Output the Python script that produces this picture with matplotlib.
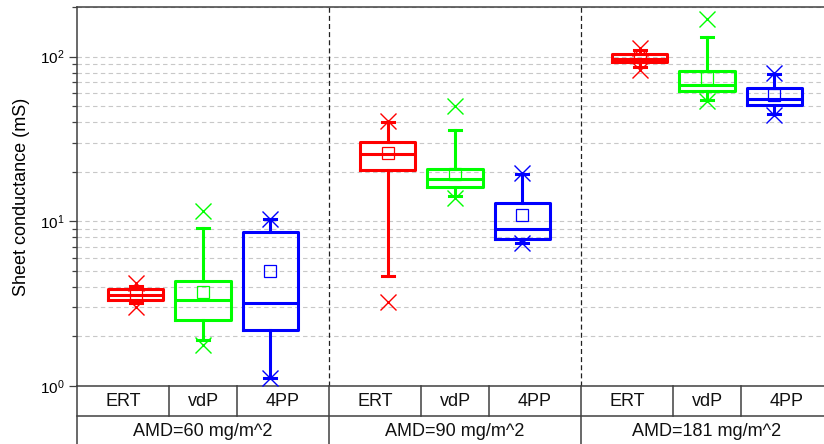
import matplotlib
matplotlib.use("Agg")
import matplotlib.pyplot as plt
import matplotlib.transforms as mtransforms
from matplotlib.ticker import LogLocator, NullFormatter

plt.rcParams['font.family'] = ['Liberation Sans', 'DejaVu Sans']

groups = ["AMD=60 mg/m^2", "AMD=90 mg/m^2", "AMD=181 mg/m^2"]
methods = ["ERT", "vdP", "4PP"]
colors = ["#ff0000", "#00ff00", "#0000ff"]

# statistics per group (rows) and per method (columns), in mS
q1 = [[3.35, 2.52, 2.19], [20.6, 16.1, 7.83], [92.9, 61.5, 50.6]]
median = [[3.57, 3.33, 3.21], [25.6, 18.1, 8.97], [96.9, 67.3, 55.6]]
q3 = [[3.89, 4.35, 8.55], [30.5, 20.8, 12.9], [104.3, 81.4, 64.2]]
mean = [[3.62, 3.71, 5.0], [25.8, 19.4, 10.85], [100.4, 74.2, 58.7]]
whisk_lo = [[3.19, 1.89, 1.12], [4.68, 14.2, 7.43], [86.1, 54.8, 45.0]]
whisk_hi = [[4.06, 9.1, 10.3], [40.1, 35.8, 19.4], [109.2, 131.8, 78.8]]
data_min = [[3.02, 1.78, 1.12], [3.25, 13.9, 7.43], [83.4, 53.5, 44.4]]
data_max = [[4.2, 11.6, 10.3], [40.5, 49.9, 19.6], [113.0, 168.0, 79.5]]

group_w = 3.75
stats, pos, box_colors = [], [], []
for g in range(len(groups)):
    for m in range(len(methods)):
        stats.append(dict(med=median[g][m], q1=q1[g][m], q3=q3[g][m],
                          whislo=whisk_lo[g][m], whishi=whisk_hi[g][m],
                          mean=mean[g][m],
                          fliers=[data_min[g][m], data_max[g][m]]))
        pos.append(g * group_w + (m - 1))
        box_colors.append(colors[m])

fig = plt.figure(figsize=(8.24, 4.44), dpi=100)
ax = fig.add_axes([77 / 824, 58 / 444, 756 / 824, 379 / 444])

lw = 2.2
bp = ax.bxp(stats, positions=pos, widths=0.82, capwidths=0.18,
            showmeans=True, showfliers=True, manage_ticks=False,
            boxprops=dict(lw=lw), whiskerprops=dict(lw=lw),
            capprops=dict(lw=lw), medianprops=dict(lw=lw),
            meanprops=dict(marker='s', markerfacecolor='none',
                           markersize=9, markeredgewidth=0.9),
            flierprops=dict(marker='x', markersize=12, markeredgewidth=1.0,
                            linestyle='none'))
for i, c in enumerate(box_colors):
    bp['boxes'][i].set_color(c)
    bp['medians'][i].set_color(c)
    bp['means'][i].set_markeredgecolor(c)
    bp['fliers'][i].set_markeredgecolor(c)
    bp['fliers'][i].set_zorder(4)
    for k in (2 * i, 2 * i + 1):
        bp['whiskers'][k].set_color(c)
        bp['caps'][k].set_color(c)

ax.set_yscale('log')
ax.set_ylim(1, 200)
ax.set_xlim(-group_w / 2, len(groups) * group_w - group_w / 2)
ax.yaxis.set_minor_locator(LogLocator(subs=range(2, 10)))
ax.yaxis.set_minor_formatter(NullFormatter())
ax.set_xticks([])

spine_c = '#404040'
for s in ax.spines.values():
    s.set_color(spine_c)
    s.set_linewidth(1.1)
ax.tick_params(axis='y', which='major', length=6, width=0.9, color=spine_c,
               labelsize=11, pad=3)
ax.tick_params(axis='y', which='minor', length=3.5, width=0.9, color=spine_c)

ax.grid(which='both', axis='y', ls=(0, (4, 3)), color='#c8c8c8', lw=0.8)
ax.set_axisbelow(True)

for g in range(1, len(groups)):
    ax.axvline(g * group_w - group_w / 2, color='#202020', lw=0.9,
               ls=(0, (4, 2.5)))

ax.set_ylabel("Sheet conductance (mS)", fontsize=13, va='center')
ax.yaxis.set_label_coords(-0.074, 0.5)

# category table under the axis
tb = mtransforms.blended_transform_factory(ax.transData, fig.transFigure)
row1 = 28 / 444
line_kw = dict(color=spine_c, lw=1.1, clip_on=False, transform=tb)
x_left, x_right = ax.get_xlim()
ax.plot([x_left, x_right], [row1, row1], **line_kw)
ax.plot([x_left, x_left], [0, 58 / 444], **line_kw)
for g in range(len(groups)):
    c = g * group_w
    if g > 0:
        ax.plot([c - group_w / 2] * 2, [0, 58 / 444], **line_kw)
    for b in (c - 0.5, c + 0.5):
        ax.plot([b, b], [row1, 58 / 444], **line_kw)
    cell_mid = [c - (group_w / 2 + 0.5) / 2, c, c + (group_w / 2 + 0.5) / 2]
    for m, name in enumerate(methods):
        ax.text(cell_mid[m], 43 / 444, name, transform=tb, ha='center',
                va='center', fontsize=13, color='#111111')
    ax.text(c, 13 / 444, groups[g], transform=tb, ha='center', va='center',
            fontsize=13, color='#111111')

fig.savefig("out.png", dpi=100)
